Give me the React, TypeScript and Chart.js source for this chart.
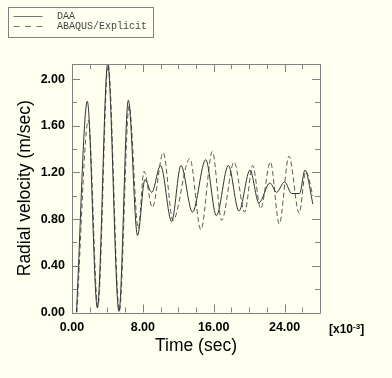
import React, { useEffect, useRef } from "react";
import { Chart, registerables } from "chart.js";

Chart.register(...registerables);

// ---- data (time in 1e-3 sec, velocity in m/sec) ----
const seriesLabels = ["DAA", "ABAQUS/Explicit"];

const daaTime = [0.5, 1.73, 2.86, 4.03, 5.3, 6.36, 7.4, 8.24, 9.0, 10.0, 11.25, 12.3, 13.6, 15.1, 16.3, 17.65, 18.85, 20.1, 21.1, 22.35, 23.1, 24.0, 24.8, 25.7, 26.3, 27.2];
const daaVelocity = [0.0, 1.81, 0.04, 2.13, 0.01, 1.82, 0.66, 1.14, 1.03, 1.26, 0.78, 1.26, 0.86, 1.31, 0.83, 1.26, 0.87, 1.22, 0.94, 1.11, 1.03, 1.12, 1.02, 1.02, 1.22, 0.93];

const abaqusTime = [0.55, 1.85, 2.92, 4.08, 5.35, 6.45, 7.48, 8.13, 9.07, 10.3, 11.4, 13.3, 14.55, 15.85, 16.9, 18.3, 19.5, 20.4, 21.3, 22.4, 23.4, 24.5, 25.65, 26.4, 27.2];
const abaqusVelocity = [0.0, 1.65, 0.05, 2.13, 0.01, 1.77, 0.72, 1.21, 0.9, 1.37, 0.79, 1.32, 0.71, 1.38, 0.79, 1.29, 0.86, 1.26, 0.89, 1.29, 0.76, 1.34, 0.85, 1.21, 1.0];

const xMin = 0;
const xMax = 28;
const xLabelStep = 8;
const xMinorStep = 2;
const yMin = 0;
const yMax = 2.13;
const yLabelStep = 0.4;
const yMinorStep = 0.2;

const xTitle = "Time (sec)";
const yTitle = "Radial velocity (m/sec)";

// ---- styles ----
const FONT = "'Liberation Sans', Arial, Helvetica, sans-serif";
const BG = "#FFFFF0";
const FRAME = "#808080";
const DAA_COLOR = "#333333";
const ABAQUS_COLOR = "#5a5a5a";

const framePlugin = {
  id: "frameTicks",
  afterDatasetsDraw(chart: any) {
    const { ctx, chartArea, scales } = chart;
    const { left, right, top, bottom } = chartArea;
    const xs = scales.x;
    const ys = scales.y;
    ctx.save();
    ctx.strokeStyle = FRAME;
    ctx.lineWidth = 1;
    ctx.beginPath();
    ctx.rect(Math.round(left) + 0.5, Math.round(top) + 0.5, Math.round(right - left), Math.round(bottom - top));
    ctx.stroke();
    ctx.beginPath();
    const nx = Math.round((xMax - xMin) / xMinorStep);
    for (let i = 0; i <= nx; i++) {
      const v = xMin + i * xMinorStep;
      const major = Math.abs(v / xLabelStep - Math.round(v / xLabelStep)) < 1e-6;
      const len = major ? 8 : 5;
      const px = Math.round(xs.getPixelForValue(v)) + 0.5;
      ctx.moveTo(px, bottom);
      ctx.lineTo(px, bottom - len);
      ctx.moveTo(px, top);
      ctx.lineTo(px, top + len);
    }
    const ny = Math.floor((yMax - yMin) / yMinorStep + 1e-6);
    for (let i = 0; i <= ny; i++) {
      const v = yMin + i * yMinorStep;
      const major = i % 2 === 0;
      const len = major ? 8 : 5;
      const py = Math.round(ys.getPixelForValue(v)) + 0.5;
      ctx.moveTo(left, py);
      ctx.lineTo(left + len, py);
      ctx.moveTo(right, py);
      ctx.lineTo(right - len, py);
    }
    ctx.stroke();
    ctx.restore();
  },
};

export default function App() {
  const canvasRef = useRef<HTMLCanvasElement | null>(null);

  useEffect(() => {
    const canvas = canvasRef.current;
    if (!canvas) return;
    const chart = new Chart(canvas, {
      type: "line",
      data: {
        datasets: [
          {
            label: seriesLabels[0],
            data: daaTime.map((t, i) => ({ x: t, y: daaVelocity[i] })),
            borderColor: DAA_COLOR,
            borderWidth: 1,
            pointRadius: 0,
            fill: false,
            cubicInterpolationMode: "monotone",
          },
          {
            label: seriesLabels[1],
            data: abaqusTime.map((t, i) => ({ x: t, y: abaqusVelocity[i] })),
            borderColor: ABAQUS_COLOR,
            borderWidth: 1,
            borderDash: [5, 3],
            pointRadius: 0,
            fill: false,
            cubicInterpolationMode: "monotone",
          },
        ],
      },
      options: {
        responsive: false,
        animation: false,
        events: [],
        layout: { padding: { top: 64, right: 72, bottom: 0, left: 0 } },
        plugins: { legend: { display: false }, tooltip: { enabled: false } },
        scales: {
          x: {
            type: "linear",
            min: xMin,
            max: xMax,
            grid: { display: false, drawTicks: false },
            border: { display: false },
            ticks: {
              stepSize: xLabelStep,
              includeBounds: false,
              autoSkip: false,
              maxRotation: 0,
              padding: 8,
              color: "#000",
              font: { family: FONT, size: 12.5, weight: "bold" },
              callback: (v: any) => Number(v).toFixed(2),
            },
            title: {
              display: true,
              text: xTitle,
              color: "#000",
              font: { family: FONT, size: 17.5 },
              padding: { top: 0, bottom: 21.5 },
            },
            afterFit: (s: any) => {
              s.height = 65.5;
            },
          },
          y: {
            type: "linear",
            min: yMin,
            max: yMax,
            grid: { display: false, drawTicks: false },
            border: { display: false },
            ticks: {
              stepSize: yLabelStep,
              includeBounds: false,
              autoSkip: false,
              padding: 7,
              color: "#000",
              font: { family: FONT, size: 12.5, weight: "bold" },
              callback: (v: any) => Number(v).toFixed(2),
            },
            title: {
              display: true,
              text: yTitle,
              color: "#000",
              font: { family: FONT, size: 17.5 },
              padding: { top: 14.5, bottom: 0 },
            },
            afterFit: (s: any) => {
              s.width = 72;
            },
          },
        },
      },
      plugins: [framePlugin],
    } as any);
    return () => chart.destroy();
  }, []);

  const legendText: React.CSSProperties = {
    position: "absolute",
    left: 48,
    fontFamily: "'Liberation Mono', 'DejaVu Sans Mono', monospace",
    fontSize: 10,
    color: "#444",
    lineHeight: "10px",
    whiteSpace: "nowrap",
  };

  return (
    <div style={{ position: "fixed", left: 0, top: 0, width: 392, height: 378, background: BG, overflow: "hidden" }}>
      <canvas ref={canvasRef} width={392} height={378} style={{ position: "absolute", left: 0, top: 0 }} />
      <div
        style={{
          position: "absolute",
          left: 8,
          top: 7,
          width: 146,
          height: 31,
          boxSizing: "border-box",
          border: `1px solid ${FRAME}`,
        }}
      >
        <svg width={40} height={29} style={{ position: "absolute", left: 0, top: 0 }}>
          <line x1={4.5} y1={8.5} x2={33.5} y2={8.5} stroke="#777" strokeWidth={1} />
          <line x1={4.5} y1={18.5} x2={33.5} y2={18.5} stroke="#777" strokeWidth={1} strokeDasharray="6,5.5" />
        </svg>
        <div style={{ ...legendText, top: 4 }}>{seriesLabels[0]}</div>
        <div style={{ ...legendText, top: 14 }}>{seriesLabels[1]}</div>
      </div>
      <div
        style={{
          position: "absolute",
          left: 329,
          top: 320,
          fontFamily: FONT,
          fontWeight: "bold",
          fontSize: 12,
          lineHeight: "14px",
          color: "#000",
          whiteSpace: "nowrap",
        }}
      >
        [x10<span style={{ fontSize: 8, verticalAlign: 4 }}>-3</span>]
      </div>
    </div>
  );
}
